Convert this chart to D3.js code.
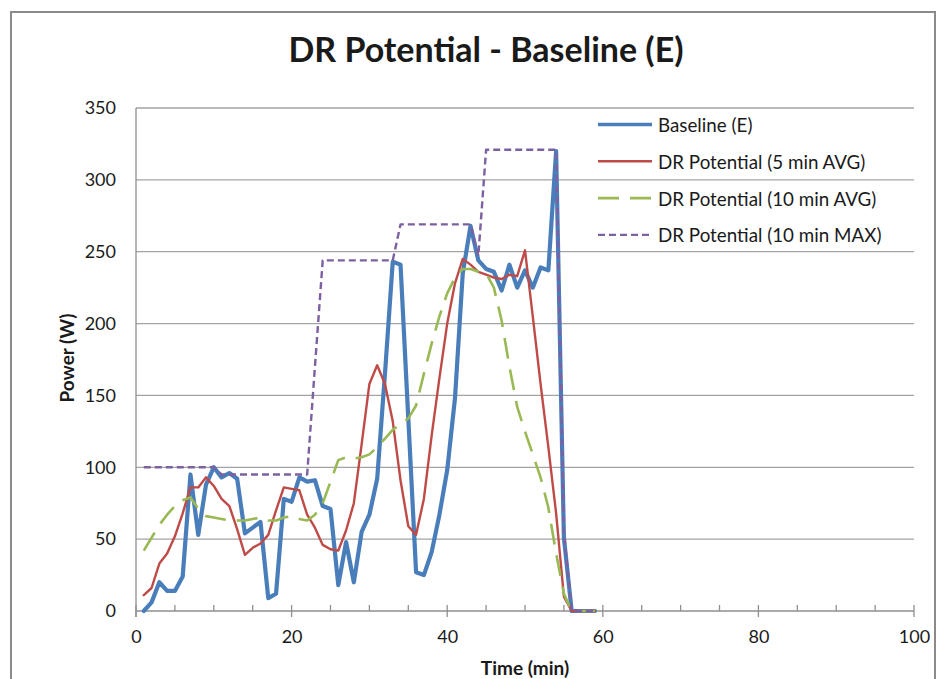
<!DOCTYPE html>
<html>
<head>
<meta charset="utf-8">
<script src="https://cdn.jsdelivr.net/npm/d3@7/dist/d3.min.js"></script>
<style>
  html, body { margin: 0; padding: 0; background: #fff; }
  svg { display: block; }
  text { font-family: Lato, "Open Sans", sans-serif; fill: #1a1a1a; }
</style>
</head>
<body>
<svg id="chart" width="952" height="679"></svg>
<script>
// ---- data ----
const minutes = d3.range(1, 60); // 1..59
const baseline = [0, 6, 20, 14, 14, 24, 95, 53, 88, 100,
  93, 96, 92, 54, 58, 62, 9, 12, 78, 76,
  93, 90, 91, 73, 71, 18, 48, 20, 55, 67,
  92, 165, 243, 241, 134, 27, 25, 41, 67, 98,
  148, 235, 268, 244, 238, 236, 223, 241, 225, 237,
  225, 239, 237, 320, 51, 0, 0, 0, 0];
const avg5 = [11, 16, 33, 40, 52, 68, 86, 86, 93, 87,
  78, 73, 57, 39, 44, 47, 53, 70, 86, 85,
  84, 67, 58, 46, 43, 42, 56, 75, 116, 158,
  171, 158, 132, 91, 59, 53, 78, 122, 162, 200,
  228, 245, 241, 236, 234, 232, 231, 234, 233, 251,
  205, 158, 114, 68, 10, 0, 0, 0, 0];
const avg10 = [42, 51, 60, 67, 73, 77, 79, 71, 66, 65,
  64, 63, 63, 63, 64, 65, 63, 63, 65, 66,
  64, 63, 67, 75, 90, 105, 107, 106, 107, 109,
  114, 120, 126, 130, 134, 143, 165, 186, 205, 221,
  232, 238, 238, 236, 235, 225, 202, 170, 142, 125,
  109, 93, 72, 40, 12, 0, 0, 0, 0];
const max10 = [100, 100, 100, 100, 100, 100, 100, 100, 100, 100,
  95, 95, 95, 95, 95, 95, 95, 95, 95, 95,
  95, 95, 170, 244, 244, 244, 244, 244, 244, 244,
  244, 244, 244, 269, 269, 269, 269, 269, 269, 269,
  269, 269, 269, 247, 321, 321, 321, 321, 321, 321,
  321, 321, 321, 321, 55, 0, 0, 0, 0];
const seriesNames = ["Baseline (E)", "DR Potential (5 min AVG)", "DR Potential (10 min AVG)", "DR Potential (10 min MAX)"];
const xTicks = [0, 20, 40, 60, 80, 100];
const yTicks = [0, 50, 100, 150, 200, 250, 300, 350];
const titleText = "DR Potential - Baseline (E)";
const xTitle = "Time (min)";
const yTitle = "Power (W)";

// ---- styles ----
const styles = [
  { color: "#4a7ebb", width: 4.2, dash: null },
  { color: "#be4b48", width: 2.4, dash: null },
  { color: "#98b954", width: 2.6, dash: "21,11" },
  { color: "#7d60a0", width: 2.4, dash: "7,4" }
];
const seriesData = [baseline, avg5, avg10, max10];

const svg = d3.select("#chart");
const x = d3.scaleLinear().domain([0, 100]).range([136, 914]);
const y = d3.scaleLinear().domain([0, 350]).range([611, 108]);

// outer border
svg.append("rect").attr("x", 11).attr("y", 12).attr("width", 924).attr("height", 700)
  .attr("fill", "#fff").attr("stroke", "#8a8a8a").attr("stroke-width", 2);

// gridlines
svg.append("g").selectAll("line").data(yTicks.filter(d => d > 0)).join("line")
  .attr("x1", x(0)).attr("x2", x(100))
  .attr("y1", d => y(d)).attr("y2", d => y(d))
  .attr("stroke", "#a3a3a3").attr("stroke-width", 1.3);

// y axis
const yAxis = d3.axisLeft(y).tickValues(yTicks).tickSize(0).tickPadding(20);
const gy = svg.append("g").attr("transform", `translate(${x(0)},0)`).call(yAxis);
gy.select(".domain").remove();
gy.selectAll("text").attr("font-size", 18).attr("fill", "#333").style("font-family", "Lato");

// x axis with minor ticks inside, major crossing
const gx = svg.append("g").attr("transform", `translate(0,${y(0)})`);
gx.call(d3.axisBottom(x).tickValues(xTicks).tickSize(0).tickPadding(19));
gx.select(".domain").remove();
gx.selectAll("text").attr("font-size", 18).attr("fill", "#333").style("font-family", "Lato");
const minor = d3.range(0, 101, 5).filter(d => d % 20 !== 0);
gx.append("g").selectAll("line").data(minor).join("line")
  .attr("x1", d => x(d)).attr("x2", d => x(d)).attr("y1", -6).attr("y2", 0)
  .attr("stroke", "#8f8f8f").attr("stroke-width", 1.3);
gx.append("g").selectAll("line").data(xTicks).join("line")
  .attr("x1", d => x(d)).attr("x2", d => x(d)).attr("y1", -6).attr("y2", 6)
  .attr("stroke", "#8f8f8f").attr("stroke-width", 1.3);
// axis lines
svg.append("line").attr("x1", x(0)).attr("x2", x(100)).attr("y1", y(0)).attr("y2", y(0))
  .attr("stroke", "#8f8f8f").attr("stroke-width", 1.3);
svg.append("line").attr("x1", x(0)).attr("x2", x(0)).attr("y1", y(350)).attr("y2", y(0) + 6)
  .attr("stroke", "#8f8f8f").attr("stroke-width", 1.3);

// series lines
const line = d3.line().x((d, i) => x(minutes[i])).y(d => y(d));
seriesData.forEach((data, k) => {
  const st = styles[k];
  svg.append("path").datum(data)
    .attr("d", line)
    .attr("fill", "none")
    .attr("stroke", st.color)
    .attr("stroke-width", st.width)
    .attr("stroke-linejoin", "round")
    .attr("stroke-linecap", st.dash ? "butt" : "round")
    .attr("stroke-dasharray", st.dash);
});

// legend
const lg = svg.append("g");
seriesNames.forEach((name, k) => {
  const st = styles[k];
  const yy = 124.5 + k * 36.8;
  lg.append("line").attr("x1", 598).attr("x2", 652).attr("y1", yy).attr("y2", yy)
    .attr("stroke", st.color).attr("stroke-width", st.width > 3 ? 3.5 : st.width)
    .attr("stroke-dasharray", st.dash);
  lg.append("text").attr("x", 658).attr("y", yy).attr("dominant-baseline", "central")
    .attr("font-size", 18.8).attr("fill", "#222").text(name);
});

// titles
svg.append("text").attr("x", 486).attr("y", 48).attr("text-anchor", "middle")
  .attr("dominant-baseline", "central").attr("font-size", 34).attr("font-weight", "bold")
  .attr("fill", "#000").text(titleText);
svg.append("text").attr("x", 525).attr("y", 667).attr("text-anchor", "middle")
  .attr("dominant-baseline", "central").attr("font-size", 19).attr("font-weight", "bold")
  .attr("fill", "#000").text(xTitle);
svg.append("text").attr("transform", "translate(66,358) rotate(-90)").attr("text-anchor", "middle")
  .attr("dominant-baseline", "central").attr("font-size", 19).attr("font-weight", "bold")
  .attr("fill", "#000").text(yTitle);
</script>
</body>
</html>
